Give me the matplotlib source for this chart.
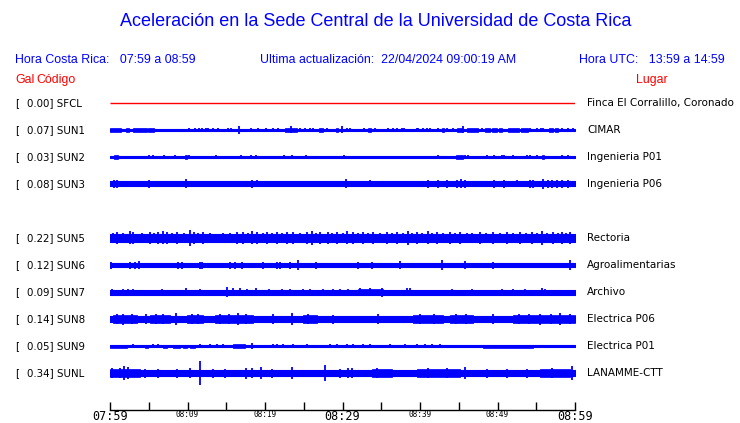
import matplotlib
matplotlib.use("Agg")
import matplotlib.pyplot as plt

# ---------------- data ----------------
codes = ["SFCL", "SUN1", "SUN2", "SUN3", None, "SUN5", "SUN6", "SUN7", "SUN8", "SUN9", "SUNL"]
peaks = ["0.00", "0.07", "0.03", "0.08", None, "0.22", "0.12", "0.09", "0.14", "0.05", "0.34"]
places = ["Finca El Corralillo, Coronado", "CIMAR", "Ingenieria P01", "Ingenieria P06", None,
          "Rectoria", "Agroalimentarias", "Archivo", "Electrica P06", "Electrica P01", "LANAMME-CTT"]

# base half-amplitude of each trace (display units)
base_amp = {"SFCL": 0.5, "SUN1": 0.7, "SUN2": 0.6, "SUN3": 2.5, "SUN5": 4.0, "SUN6": 2.5,
            "SUN7": 2.5, "SUN8": 3.2, "SUN9": 0.7, "SUNL": 3.0}

# bursts: (start minute, end minute, half-amplitude)
bursts = {
    "SUN1": [(0, 1.4, 2), (2.0, 2.5, 2), (3.0, 4.8, 2), (4.9, 5.7, 2.3), (22.6, 24.1, 2.2),
             (27.0, 27.5, 2), (29.2, 29.4, 2), (33.3, 33.7, 2), (42.8, 43.1, 2), (44.8, 45.4, 2),
             (46.1, 47.5, 2), (48.4, 49.0, 2), (49.3, 49.9, 2), (50.2, 50.6, 2), (51.4, 52.8, 2),
             (53.0, 53.9, 2), (56.6, 57.2, 2), (57.4, 57.8, 2)],
    "SUN2": [(0.5, 1.0, 2), (9.7, 9.9, 2.3), (44.6, 45.5, 2.2), (55.7, 56.0, 2)],
    "SUN3": [],
    "SUN5": [],
    "SUN6": [],
    "SUN7": [(32.0, 35.2, 3.2)],
    "SUN8": [(0.4, 3.5, 4.2), (5.2, 7.7, 4.0), (9.9, 12.0, 4.0), (13.5, 18.5, 4.2), (24.9, 26.7, 4.0),
             (39.1, 43.0, 4.0), (43.9, 46.8, 4.0), (52.0, 60.0, 4.4)],
    "SUN9": [(0, 2.2, 1.5), (4.5, 4.9, 1.5), (6.8, 7.4, 1.5), (8.1, 9.0, 1.5), (9.4, 9.9, 1.5),
             (10.3, 11.0, 1.5), (15.9, 17.4, 1.8), (43.5, 47.4, 1.3), (48.1, 54.6, 1.5),
             (55.5, 59.7, 1.4)],
    "SUNL": [(0, 3.9, 4), (33.8, 36.4, 4.0), (39.6, 45.2, 4.0), (55.5, 59.4, 4.2)],
}

# spikes: (minute, half-amplitude)
spikes = {
    "SUN1": [(10.2, 2), (11.0, 2), (11.5, 2), (11.9, 2), (12.4, 2), (12.6, 2), (13.3, 2), (13.9, 2),
             (15.2, 2), (15.6, 2), (16.6, 4), (18.2, 2), (19.1, 2), (20.1, 2), (21.0, 2), (21.7, 2),
             (23.4, 3.5), (24.5, 2), (25.2, 2), (25.8, 2), (26.2, 2), (28.0, 2), (29.9, 3.5), (30.6, 2),
             (31.0, 2), (32.8, 2), (34.2, 2), (35.9, 2), (36.5, 2), (37.0, 2), (37.7, 2), (37.9, 2),
             (39.6, 2), (39.7, 2), (40.4, 2), (40.9, 2), (41.3, 2), (42.3, 2), (43.5, 2), (44.3, 2),
             (45.5, 3.5), (48.0, 2), (54.2, 2), (55.1, 2), (55.6, 2), (55.9, 2), (58.3, 2), (59.1, 2),
             (59.7, 2)],
    "SUN2": [(5.0, 2), (5.5, 1.5), (7.0, 2), (8.4, 1.5), (10.2, 2), (13.7, 2.3), (16.9, 1.5), (18.2, 2),
             (18.8, 2), (22.5, 1.5), (23.5, 1.5), (25.3, 2), (30.2, 1.5), (42.3, 2), (45.8, 2),
             (46.2, 1.5), (48.6, 2), (49.5, 2), (50.6, 1.5), (50.8, 2), (52.0, 1.5), (53.8, 1.5),
             (54.2, 2), (55.1, 1.5), (58.3, 2), (59.1, 2)],
    "SUN3": [(0.5, 4), (0.9, 4), (5.0, 4), (8.5, 3.2), (9.8, 4.5), (18.3, 4), (19.0, 3.5), (30.5, 4.5),
             (33.5, 3.5), (41.0, 4), (42.3, 4), (43.5, 4), (44.8, 4), (45.3, 4.5), (45.8, 4), (49.5, 4),
             (50.8, 4), (52.5, 3.5), (54.2, 4), (54.6, 4), (55.9, 5), (56.5, 4), (57.0, 4), (57.7, 4),
             (58.3, 4), (59.1, 4)],
    "SUN5": [(0.4, 5), (0.9, 6), (1.7, 5), (2.6, 6.5), (3.0, 6), (4.1, 5), (5.2, 6), (5.7, 5),
             (6.2, 6), (6.8, 6.5), (7.4, 6), (8.0, 5), (8.6, 6), (9.5, 5), (10.3, 8), (10.8, 6),
             (11.3, 5), (12.0, 6), (12.9, 5), (14.6, 5), (15.5, 5.5), (16.4, 6), (17.2, 6), (17.8, 5),
             (18.3, 6.5), (19.0, 6), (19.7, 5), (20.3, 6), (20.9, 5), (21.5, 6), (22.2, 5), (22.8, 6),
             (23.6, 6), (24.5, 5), (25.4, 6), (26.1, 7), (26.6, 5), (27.1, 6), (28.1, 6), (28.7, 5),
             (29.3, 6), (30.0, 5), (30.6, 6.5), (31.4, 6), (32.0, 5), (32.6, 6), (33.3, 5), (33.9, 6),
             (34.8, 5), (35.7, 6), (36.4, 5), (37.0, 6), (37.8, 5), (38.5, 7.5), (39.0, 5.5), (39.6, 6),
             (40.3, 5), (41.0, 6.5), (41.6, 5), (42.2, 6), (43.0, 5), (43.9, 6), (44.5, 5), (45.2, 6),
             (46.0, 5), (46.7, 5.5), (47.7, 6), (48.5, 5), (49.4, 6), (50.3, 5), (51.2, 6), (52.0, 5),
             (52.9, 6), (53.7, 5), (54.5, 6), (55.1, 5), (55.7, 7.5), (56.4, 5), (57.2, 6), (57.8, 5),
             (58.3, 6), (58.9, 5), (59.4, 6)],
    "SUN6": [(0.1, 3.5), (2.6, 3.5), (3.2, 3.5), (3.7, 4), (8.8, 3.5), (9.3, 3.5), (11.6, 3.5),
             (11.9, 3.5), (15.5, 3.5), (16.1, 3.5), (17.0, 3.5), (19.7, 3.5), (21.5, 3.5), (21.9, 3.5),
             (23.2, 3.5), (24.3, 5), (26.6, 3.5), (32.0, 3.5), (33.8, 3.5), (37.4, 4), (42.8, 5),
             (45.8, 4), (49.4, 3.5), (59.4, 5)],
    "SUN7": [(0.3, 3.5), (1.7, 3.5), (2.3, 3.5), (3.0, 3.5), (6.7, 3.5), (9.8, 4), (11.6, 3.5),
             (15.1, 5), (15.9, 4), (16.8, 4), (17.7, 3.5), (18.8, 4), (20.5, 3.5), (22.2, 3.5),
             (23.2, 3.5), (24.9, 3.5), (25.8, 3.5), (27.5, 3.5), (28.8, 3.5), (29.7, 3.5), (30.7, 3.5),
             (32.3, 4), (33.5, 4), (35.1, 4.5), (38.3, 4), (38.7, 4), (44.1, 3.5), (46.7, 3.5),
             (50.6, 3.5), (52.0, 3.5), (53.5, 3.5), (55.7, 4), (56.1, 3.5)],
    "SUN8": [(0.9, 5), (1.7, 5.5), (2.8, 5), (4.6, 5), (5.9, 5), (6.9, 5), (8.5, 6), (10.6, 5),
             (11.4, 5), (14.2, 5), (15.3, 5), (16.5, 6), (17.6, 5), (21.0, 5), (23.5, 6), (25.6, 5),
             (28.8, 4.5), (34.6, 5), (40.0, 5), (41.8, 5), (44.6, 5), (45.9, 5), (49.4, 5), (52.8, 5),
             (54.0, 5), (55.5, 5.5), (56.9, 5), (58.1, 6), (59.3, 5)],
    "SUN9": [(3.0, 1.6), (5.5, 1.6), (6.2, 1.6), (11.6, 1.6), (12.9, 1.6), (13.8, 1.6), (14.6, 1.6),
             (18.3, 3), (21.0, 1.6), (21.5, 1.6), (22.3, 1.6), (23.6, 1.6), (25.4, 1.6), (28.4, 1.6),
             (29.3, 1.6), (30.6, 1.6), (31.4, 1.6), (32.6, 1.6), (33.5, 1.6), (36.1, 1.6), (38.1, 1.6),
             (39.6, 1.6), (40.6, 1.6), (41.5, 1.6), (42.6, 1.6)],
    "SUNL": [(0.3, 5), (1.3, 5), (1.8, 7), (2.3, 6), (4.5, 4.5), (6.2, 4.5), (8.6, 4.5), (10.3, 5),
             (11.6, 12), (13.3, 4.5), (14.8, 4.5), (17.5, 5.5), (18.3, 5), (19.5, 6), (20.9, 4.5),
             (23.5, 6), (27.7, 8), (29.7, 4.5), (30.7, 5), (31.2, 5), (34.5, 5), (41.0, 5), (43.5, 5),
             (45.8, 6), (48.6, 4.5), (51.2, 4.5), (53.8, 4.5), (57.0, 5), (59.6, 7)],
}

tick_minutes = list(range(0, 61, 5))
tick_labels = ["07:59", "", "08:09", "", "08:19", "", "08:29", "", "08:39", "", "08:49", "", "08:59"]

# ---------------- layout helpers ----------------
W, H = 740, 423
fig = plt.figure(figsize=(W / 100, H / 100), dpi=100)
BLUE = "#0000ff"
RED = "#ff0000"
ROW0, ROWSTEP = 103, 27  # pixel y of first trace and spacing


def fx(px):
    return px / W


def fy(py):
    return 1 - py / H


ax_top, ax_bot = 90, 410
ax = fig.add_axes([fx(110), fy(ax_bot), fx(575) - fx(110), (ax_bot - ax_top) / H])
ax.set_xlim(0, 60)
ax.set_ylim((ax_bot - ROW0) / ROWSTEP, (ax_top - ROW0) / ROWSTEP)
for s in ["left", "right", "top"]:
    ax.spines[s].set_visible(False)
ax.spines["bottom"].set_linewidth(1.0)
ax.set_yticks([])
ax.set_xticks(tick_minutes)
ax.set_xticklabels(tick_labels, family="DejaVu Sans Mono")
ax.tick_params(axis="x", direction="in", length=6, width=1, colors="black")
for tick, txt in zip(ax.xaxis.get_major_ticks(), tick_labels):
    big = txt in ("07:59", "08:29", "08:59")
    tick.label1.set_fontsize(8.5 if big else 5.6)
    tick.label1.set_verticalalignment("baseline")
    tick.set_pad(7.4 if big else 5.0)

scale = 1.0 / ROWSTEP  # display units -> rows
for i, code in enumerate(codes):
    if code is None:
        continue
    if code == "SFCL":
        ax.plot([0, 60], [i, i], color=RED, lw=1.0, solid_capstyle="butt")
    else:
        b = base_amp[code] * scale
        ax.fill_between([0, 60], i - b, i + b, color=BLUE, lw=0.8, edgecolor=BLUE)
        for (s0, s1, a) in bursts.get(code, []):
            ax.fill_between([s0, s1], i - a * scale, i + a * scale, color=BLUE, lw=0.5, edgecolor=BLUE)
        sp = spikes.get(code, [])
        if sp:
            ax.vlines([m for m, a in sp], [i - a * scale for m, a in sp], [i + a * scale for m, a in sp],
                      color=BLUE, lw=1.3)
    ypix = ROW0 + ROWSTEP * i
    fig.text(fx(15), fy(ypix), "[", fontsize=7.4, family="DejaVu Sans", va="center", ha="left")
    fig.text(fx(27), fy(ypix), f"{peaks[i]}] {code}", fontsize=7.4, family="DejaVu Sans",
             va="center", ha="left")
    fig.text(fx(587), fy(ypix), places[i], fontsize=7.5, family="DejaVu Sans", va="center", ha="left")

# ---------------- header texts ----------------
hdr = "Liberation Sans"
fig.text(fx(376), fy(22), "Aceleración en la Sede Central de la Universidad de Costa Rica",
         color=BLUE, fontsize=13.0, family=hdr, ha="center", va="center")
fig.text(fx(15), fy(60), "Hora Costa Rica:   07:59 a 08:59", color=BLUE, fontsize=8.9, family=hdr,
         ha="left", va="center")
fig.text(fx(260), fy(60), "Ultima actualización:  22/04/2024 09:00:19 AM", color=BLUE, fontsize=8.9,
         family=hdr, ha="left", va="center")
fig.text(fx(725), fy(60), "Hora UTC:   13:59 a 14:59", color=BLUE, fontsize=8.9, family=hdr,
         ha="right", va="center")
fig.text(fx(15), fy(80), "Gal", color=RED, fontsize=8.9, family=hdr, ha="left", va="center")
fig.text(fx(36), fy(80), "Código", color=RED, fontsize=8.9, family=hdr, ha="left", va="center")
fig.text(fx(668), fy(80), "Lugar", color=RED, fontsize=8.9, family=hdr, ha="right", va="center")

fig.savefig("out.png", dpi=100)
